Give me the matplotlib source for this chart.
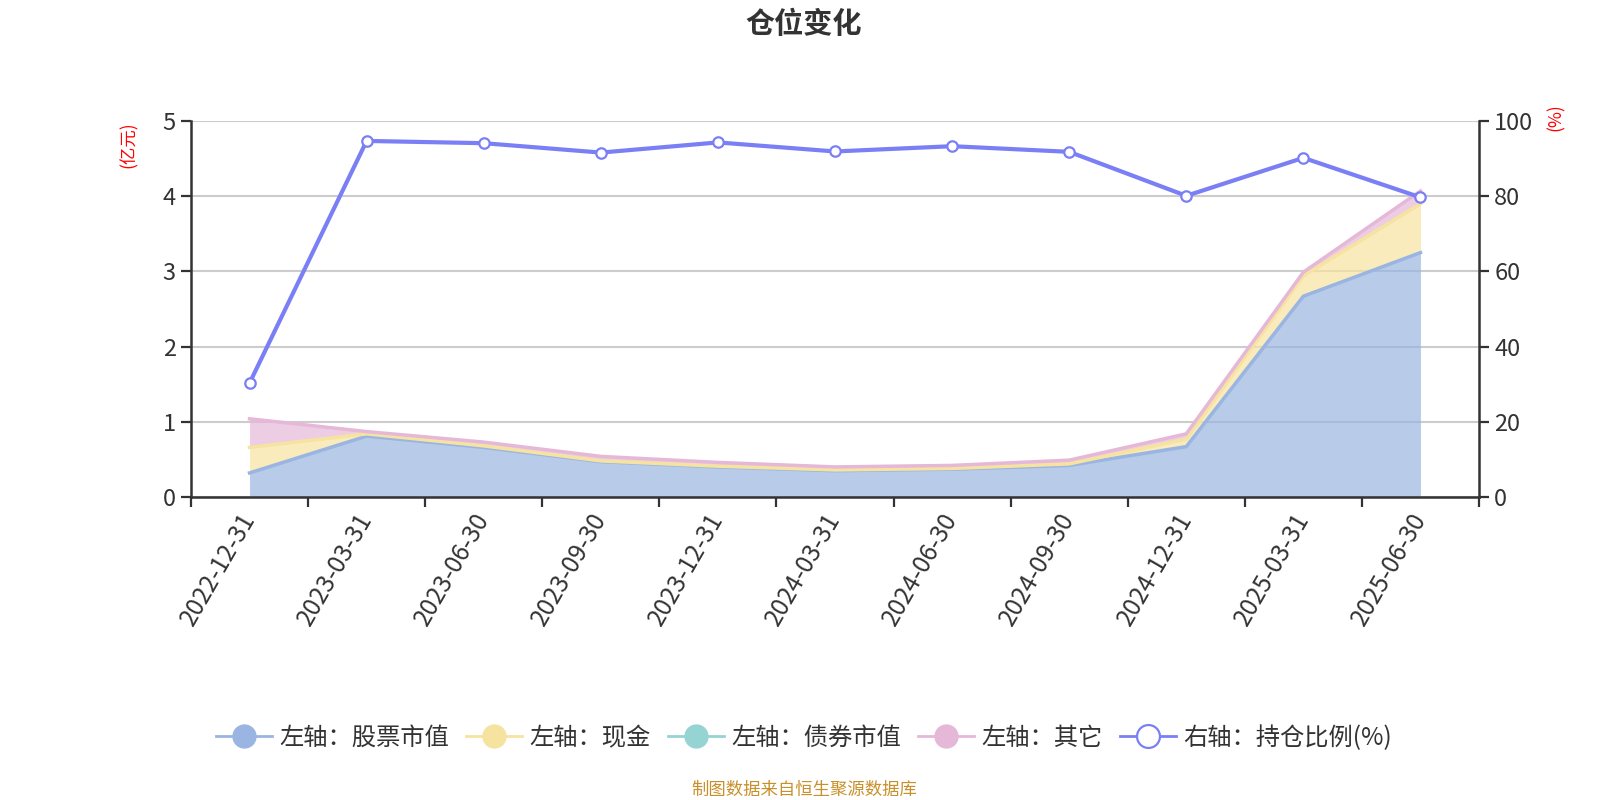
import numpy as np
import matplotlib
matplotlib.use("Agg")
import matplotlib.pyplot as plt
from matplotlib.lines import Line2D

plt.rcParams['font.family'] = ['Noto Sans CJK SC', 'DejaVu Sans']

dates = ['2022-12-31', '2023-03-31', '2023-06-30', '2023-09-30', '2023-12-31',
         '2024-03-31', '2024-06-30', '2024-09-30', '2024-12-31', '2025-03-31', '2025-06-30']
stock = [0.32, 0.81, 0.66, 0.47, 0.40, 0.35, 0.37, 0.42, 0.67, 2.67, 3.25]
cash = [0.34, 0.03, 0.02, 0.01, 0.01, 0.01, 0.01, 0.02, 0.10, 0.27, 0.65]
bond = [np.nan] * 11
other = [0.38, 0.03, 0.05, 0.06, 0.05, 0.04, 0.04, 0.05, 0.07, 0.05, 0.17]
ratio = [30.3, 94.7, 94.1, 91.6, 94.3, 91.9, 93.3, 91.8, 80.1, 90.2, 79.7]

names = ['左轴：股票市值', '左轴：现金', '左轴：债券市值', '左轴：其它', '右轴：持仓比例(%)']
line_colors = ['#9ab5e1', '#f7e3a0', '#96d3d3', '#e6b8d8']
ratio_color = '#7a7ff5'

fig = plt.figure(figsize=(16, 8), dpi=100)
ax = fig.add_axes([191/1600, 303/800, (1479-191)/1600, (497-121)/800])
ax2 = ax.twinx()

x = np.arange(len(dates))
base = np.zeros(len(dates))
for vals, c in zip([stock, cash, bond, other], line_colors):
    v = np.array(vals, dtype=float)
    filled = np.nan_to_num(v)
    top = base + filled
    if not np.all(np.isnan(v)):
        ax.fill_between(x, base, top, color=c, alpha=0.7, linewidth=0, zorder=2)
        ax.plot(x, top, color=c, linewidth=2.5, zorder=3, solid_joinstyle='round')
    base = top

ax2.plot(x, ratio, color=ratio_color, linewidth=3, marker='o', markersize=7.5,
         markerfacecolor='white', markeredgecolor=ratio_color, markeredgewidth=1.6, zorder=5)

ax.set_xlim(-0.5, len(dates) - 0.5)
ax.set_ylim(0, 5)
ax2.set_ylim(0, 100)
ax.set_yticks([0, 1, 2, 3, 4, 5])
ax2.set_yticks([0, 20, 40, 60, 80, 100])

ax.set_xticks(np.arange(-0.5, len(dates), 1.0))
ax.set_xticklabels([])
ax.set_xticks(x, minor=True)
ax.set_xticklabels(dates, minor=True, rotation=60, ha='right', va='center',
                   rotation_mode='anchor', fontsize=17.5, color='#333333')
ax.tick_params(axis='x', which='minor', length=0, pad=13)
ax.tick_params(axis='x', which='major', length=7, width=1.6, color='#333333')
ax.tick_params(axis='y', length=7, width=1.6, color='#333333', labelsize=17,
               labelcolor='#333333', pad=4)
ax2.tick_params(axis='y', length=7, width=1.6, color='#333333', labelsize=17,
                labelcolor='#333333', pad=4)

ax.grid(axis='y', color='#cccccc', linewidth=1.5, zorder=0)
ax.set_axisbelow(True)
for a in (ax, ax2):
    a.spines['top'].set_visible(False)
    for s in ('left', 'right', 'bottom'):
        a.spines[s].set_color('#333333')
        a.spines[s].set_linewidth(1.8)
ax.spines['right'].set_visible(False)
ax2.spines['left'].set_visible(False)
ax2.spines['bottom'].set_visible(False)

fig.text(804/1600, 1 - 24/800, '仓位变化', ha='center', va='center',
         fontsize=21, fontweight='bold', color='#333333')
fig.text(129/1600, 1 - 145/800, '(亿元)', ha='center', va='center', rotation=90,
         fontsize=12.5, color='red')
fig.text(1556/1600, 1 - 117/800, '(%)', ha='center', va='center', rotation=90,
         fontsize=12.5, color='red')
fig.text(804/1600, 1 - 790/800, '制图数据来自恒生聚源数据库', ha='center', va='center',
         fontsize=12.5, color='#c8902a')

handles = []
for c in line_colors:
    handles.append(Line2D([0], [0], color=c, linewidth=2, marker='o', markersize=16.5,
                          markerfacecolor=c, markeredgecolor=c))
handles.append(Line2D([0], [0], color=ratio_color, linewidth=2, marker='o', markersize=16.5,
                      markerfacecolor='white', markeredgecolor=ratio_color, markeredgewidth=1.6))
fig.legend(handles, names, loc='center', bbox_to_anchor=(804/1600, 1 - 738/800), ncol=5,
           frameon=False, fontsize=17.5, handlelength=2.3, handletextpad=0.3,
           columnspacing=0.72, labelcolor='#333333')

fig.savefig('out.png', dpi=100)
